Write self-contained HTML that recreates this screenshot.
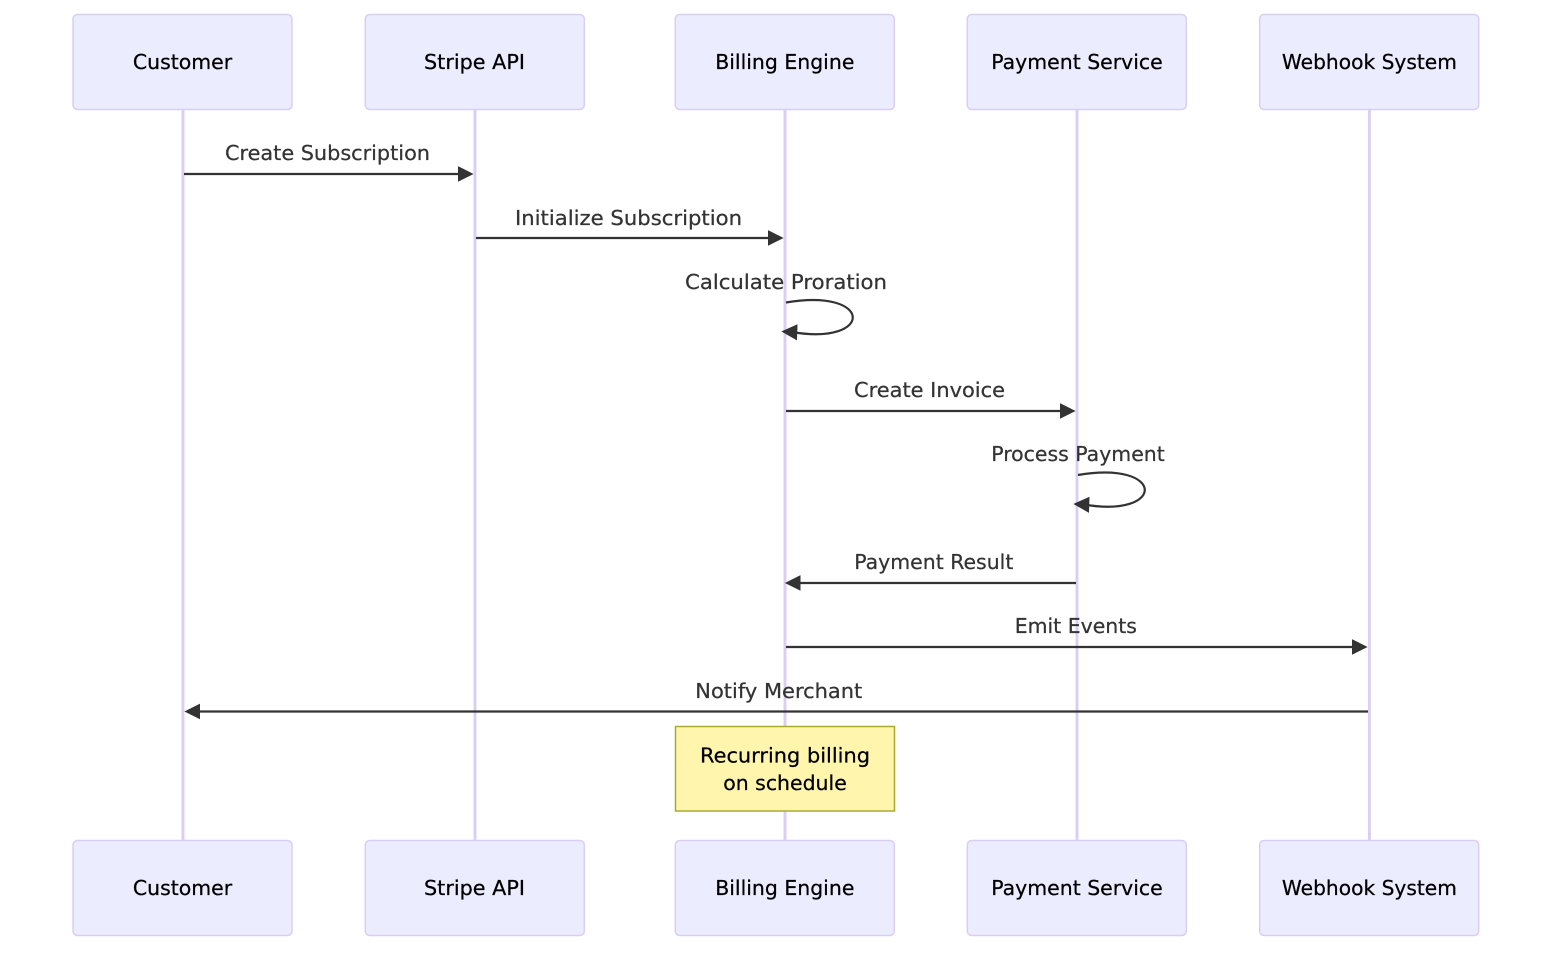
<!DOCTYPE html>
<html lang="en">
<head>
<meta charset="utf-8">
<title>Subscription billing sequence</title>
<style>
html,body{margin:0;padding:0;background:#fff;width:1568px;height:962px;overflow:hidden}
svg{display:block}
text{font-family:"DejaVu Sans",sans-serif;text-anchor:middle}
.a{fill:#ECECFF;stroke:#DACEF3;stroke-width:1.5}
.at{font-size:20.44px;fill:#000;stroke:#000;stroke-width:.25;dominant-baseline:central}
.l{stroke:#DACEF3;stroke-width:2.9;fill:none}
.m{stroke:#333;stroke-width:2.2;fill:none}
.mt{font-size:20.44px;fill:#333;stroke:#333;stroke-width:.25}
.h{fill:#333;stroke:#333;stroke-width:1}
.n{font-size:20.44px;fill:#000;stroke:#000;stroke-width:.25}
</style>
</head>
<body>
<svg width="1568" height="962" viewBox="0 0 1568 962" xmlns="http://www.w3.org/2000/svg">
<rect width="1568" height="962" fill="#fff"/>
<!-- lifelines -->
<line class="l" x1="183" y1="110" x2="183" y2="840"/>
<line class="l" x1="475" y1="110" x2="475" y2="840"/>
<line class="l" x1="785" y1="110" x2="785" y2="840"/>
<line class="l" x1="1077" y1="110" x2="1077" y2="840"/>
<line class="l" x1="1369.400" y1="110" x2="1369.400" y2="840"/>
<!-- top actors -->
<rect class="a" x="73" y="14.500" width="219" height="95" rx="4.400"/>
<rect class="a" x="365.300" y="14.500" width="219" height="95" rx="4.400"/>
<rect class="a" x="675.300" y="14.500" width="219" height="95" rx="4.400"/>
<rect class="a" x="967.300" y="14.500" width="219" height="95" rx="4.400"/>
<rect class="a" x="1259.700" y="14.500" width="219" height="95" rx="4.400"/>
<text class="at" x="182.500" y="62">Customer</text>
<text class="at" x="474.500" y="62" textLength="101" lengthAdjust="spacingAndGlyphs">Stripe API</text>
<text class="at" x="784.800" y="62">Billing Engine</text>
<text class="at" x="1077" y="62">Payment Service</text>
<text class="at" x="1369.400" y="62" textLength="175" lengthAdjust="spacingAndGlyphs">Webhook System</text>
<!-- bottom actors -->
<rect class="a" x="73" y="840.500" width="219" height="95" rx="4.400"/>
<rect class="a" x="365.300" y="840.500" width="219" height="95" rx="4.400"/>
<rect class="a" x="675.300" y="840.500" width="219" height="95" rx="4.400"/>
<rect class="a" x="967.300" y="840.500" width="219" height="95" rx="4.400"/>
<rect class="a" x="1259.700" y="840.500" width="219" height="95" rx="4.400"/>
<text class="at" x="182.500" y="888">Customer</text>
<text class="at" x="474.500" y="888" textLength="101" lengthAdjust="spacingAndGlyphs">Stripe API</text>
<text class="at" x="784.800" y="888">Billing Engine</text>
<text class="at" x="1077" y="888">Payment Service</text>
<text class="at" x="1369.400" y="888" textLength="175" lengthAdjust="spacingAndGlyphs">Webhook System</text>
<!-- messages -->
<text class="mt" x="327.500" y="160" textLength="205" lengthAdjust="spacingAndGlyphs">Create Subscription</text>
<line class="m" x1="184" y1="174" x2="460" y2="174"/>
<path class="h" d="M458.500,167 L472.500,174 L458.500,181 Z"/>

<text class="mt" x="628.500" y="225" textLength="227" lengthAdjust="spacingAndGlyphs">Initialize Subscription</text>
<line class="m" x1="476" y1="238" x2="770" y2="238"/>
<path class="h" d="M768.500,231 L782.500,238 L768.500,245 Z"/>

<text class="mt" x="786" y="289" textLength="202" lengthAdjust="spacingAndGlyphs">Calculate Proration</text>
<path class="m" d="M786,302.500 C874,287.500 874,346 792,332"/>
<path class="h" d="M782.500,331.500 L797,325 L796.500,339.500 Z"/>

<text class="mt" x="929.500" y="397" textLength="151" lengthAdjust="spacingAndGlyphs">Create Invoice</text>
<line class="m" x1="786" y1="411" x2="1062" y2="411"/>
<path class="h" d="M1060.500,404 L1074.500,411 L1060.500,418 Z"/>

<text class="mt" x="1078" y="461">Process Payment</text>
<path class="m" d="M1078,475 C1166,460 1166,518.500 1084,504.500"/>
<path class="h" d="M1074.500,504 L1089,497.500 L1088.500,512 Z"/>

<text class="mt" x="933.800" y="569">Payment Result</text>
<line class="m" x1="800" y1="583" x2="1076" y2="583"/>
<path class="h" d="M800,576 L786,583 L800,590 Z"/>

<text class="mt" x="1075.800" y="633">Emit Events</text>
<line class="m" x1="786" y1="647" x2="1354" y2="647"/>
<path class="h" d="M1352.500,640 L1366.500,647 L1352.500,654 Z"/>

<text class="mt" x="778.800" y="698" textLength="167" lengthAdjust="spacingAndGlyphs">Notify Merchant</text>
<line class="m" x1="200" y1="711.500" x2="1368" y2="711.500"/>
<path class="h" d="M199.500,704.500 L185.500,711.500 L199.500,718.500 Z"/>

<!-- note -->
<rect x="675.500" y="726.500" width="219" height="84.500" fill="#FFF5AD" stroke="#AAAA33" stroke-width="1.500"/>
<text class="n" x="785" y="762.500" textLength="170" lengthAdjust="spacingAndGlyphs">Recurring billing</text>
<text class="n" x="785" y="790">on schedule</text>
</svg>
</body>
</html>
